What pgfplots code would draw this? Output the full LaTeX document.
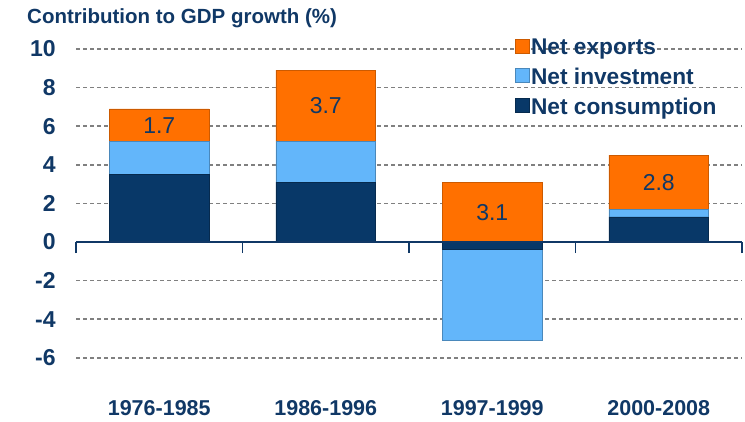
\documentclass[border=0pt]{standalone}
\usepackage{fontspec}
\setmainfont{Liberation Sans}
\usepackage{pgfplots}
\pgfplotsset{compat=1.18}
\definecolor{txt}{RGB}{16,56,102}
\definecolor{dkblue}{RGB}{8,56,104}
\definecolor{ltblue}{RGB}{99,182,250}
\definecolor{orng}{RGB}{255,112,0}
\definecolor{gridgray}{RGB}{128,128,128}
\newcommand\tickfont{\fontsize{23bp}{23bp}\selectfont\bfseries}
\newcommand\catfont{\fontsize{21.5bp}{21.5bp}\selectfont\bfseries}
\newcommand\legfont{\fontsize{22.7bp}{24bp}\selectfont\bfseries}
\newcommand\valfont{\fontsize{23bp}{23bp}\selectfont}
\pgfplotsset{
  base/.style={at={(76bp,52.6bp)}, anchor=south west, scale only axis,
    width=666bp, height=320.4bp, xmin=-0.5, xmax=3.5, ymin=-6.6, ymax=10,
    bar width=0.6, /pgf/number format/assume math mode=true},
  cons/.style={fill=dkblue, draw=dkblue!75!black, line width=0.6bp},
  inv/.style={fill=ltblue, draw=ltblue!75!black, line width=0.6bp},
  expo/.style={fill=orng, draw=orng!80!black, line width=0.6bp},
}
\begin{document}
\begin{tikzpicture}
\useasboundingbox (0,0) rectangle (745bp,422bp);
\node[anchor=base west, inner sep=0pt, text=txt, font=\fontsize{20.5bp}{20.5bp}\selectfont\bfseries] at (27bp,398bp) {Contribution to GDP growth (\%)};
% axis 1: grid, positive parts, legend, categories
\begin{axis}[base, ybar stacked,
  axis x line=bottom, axis y line=left,
  x axis line style={draw=none}, y axis line style={draw=none},
  xtick={0,1,2,3}, xticklabels={1976-1985,1986-1996,1997-1999,2000-2008},
  xtick style={draw=none}, ytick style={draw=none},
  ytick={-6,-4,...,10},
  ymajorgrids, grid style={gridgray, line width=1.5bp, dash pattern=on 4bp off 3bp},
  yticklabel style={font=\tickfont, text=txt, inner sep=0pt, anchor=east, xshift=-18bp},
  xticklabel style={font=\catfont, text=txt, anchor=center, inner sep=0pt, yshift=-36.6bp},
  reverse legend,
  legend cell align=left,
  legend image code/.code={\path[draw=none, fill=none] (0bp,1bp) rectangle (14bp,15bp);
    \fill[#1, overlay] (0bp,-6bp) rectangle (14bp,8bp);},
  legend style={at={(0.659,1.053)}, anchor=north west, draw=none, fill=none,
    font=\legfont, text=txt, inner sep=0pt, row sep=4bp,
    /tikz/every even column/.append style={column sep=4bp}},
]
\addplot[cons] coordinates {(0,3.5) (1,3.1) (2,0) (3,1.3)};
\addlegendentry{Net consumption}
\addplot[inv] coordinates {(0,1.7) (1,2.1) (2,0) (3,0.4)};
\addlegendentry{Net investment}
\addplot[expo] coordinates {(0,1.7) (1,3.7) (2,3.1) (3,2.8)};
\addlegendentry{Net exports}
\end{axis}
% axis 2: negative parts
\begin{axis}[base, ybar stacked, hide axis]
\addplot[cons] coordinates {(2,-0.4)};
\addplot[inv] coordinates {(2,-4.7)};
\end{axis}
% axis 3: zero line, separators, value labels
\begin{axis}[at={(76bp,180bp)}, anchor=south west, scale only axis,
  width=666bp, height=193bp, xmin=-0.5, xmax=3.5, ymin=0, ymax=10,
  axis x line=bottom, axis y line=none,
  x axis line style={-, draw=txt, line width=1.5bp},
  xtick={-0.5,0.5,1.5,2.5,3.5}, xticklabels={},
  tick align=outside, major tick length=11bp,
  xtick style={draw=txt, line width=1.2bp},
  ytick=\empty]
\addplot[draw=none, nodes near coords, point meta=explicit symbolic,
  nodes near coords align={center},
  every node near coord/.append style={font=\valfont, text=txt, anchor=center}]
  coordinates {(0,6.05)[1.7] (1,7.05)[3.7] (2,1.55)[3.1] (3,3.1)[2.8]};
\end{axis}
\end{tikzpicture}
\end{document}
